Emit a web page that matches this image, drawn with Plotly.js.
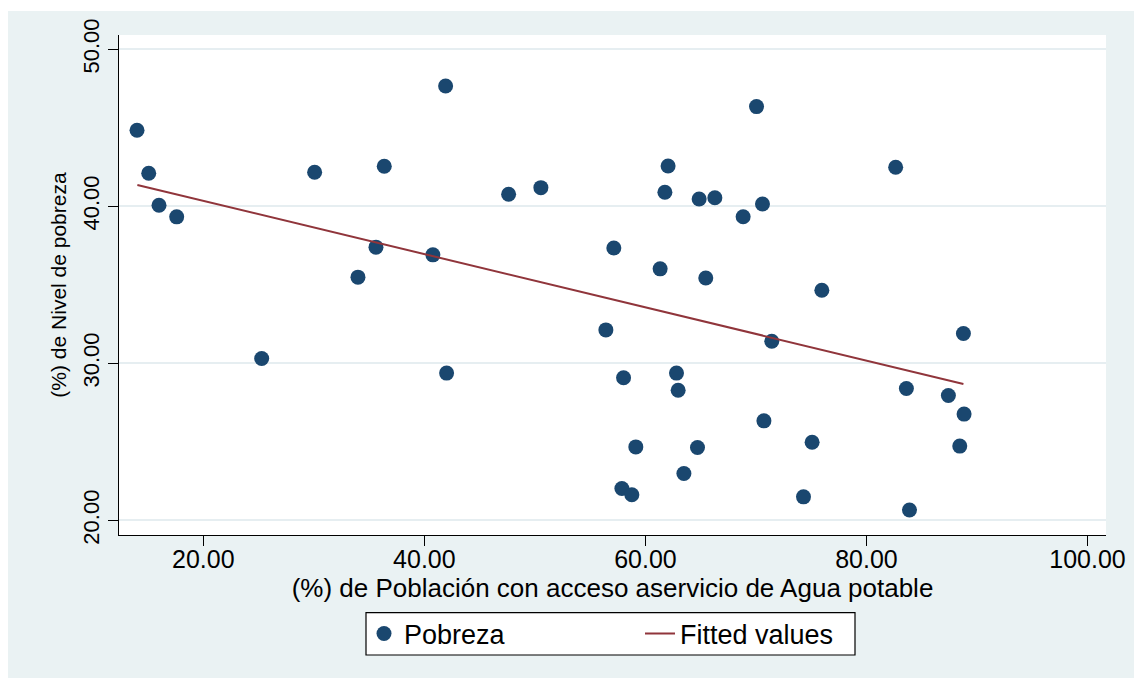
<!DOCTYPE html>
<html>
<head>
<meta charset="utf-8">
<script src="https://cdn.plot.ly/plotly-3.0.1.min.js"></script>
<style>
  html, body { margin: 0; padding: 0; background: #ffffff; width: 1134px; height: 678px; overflow: hidden; }
  #chart { position: absolute; left: 8px; top: 11px; width: 1126px; height: 667px; }
</style>
</head>
<body>
<div id="chart"></div>
<script>
// ---- data ----
const pobrezaX = [14.00, 15.06, 15.99, 17.59, 25.28, 30.07, 33.99, 35.62, 36.37, 40.77,
                  41.92, 42.01, 47.62, 50.54, 56.42, 57.14, 57.87, 58.02, 58.77, 59.13,
                  61.33, 61.76, 62.05, 62.81, 62.96, 63.48, 64.71, 64.86, 65.46, 66.28,
                  68.84, 70.05, 70.59, 70.72, 71.43, 74.30, 75.08, 75.96, 82.64, 83.61,
                  83.89, 87.41, 88.44, 88.77, 88.83];
const pobrezaY = [44.84, 42.11, 40.07, 39.33, 30.31, 42.17, 35.49, 37.40, 42.55, 36.91,
                  47.66, 29.38, 40.77, 41.19, 32.13, 37.35, 22.03, 29.08, 21.63, 24.68,
                  36.02, 40.90, 42.57, 29.38, 28.29, 22.99, 24.64, 40.47, 35.44, 40.55,
                  39.34, 46.35, 40.15, 26.34, 31.41, 21.50, 24.98, 34.66, 42.49, 28.40,
                  20.66, 27.95, 24.73, 31.90, 26.77];
const fittedX = [14.03, 88.77];
const fittedY = [41.36, 28.69];

const xTickVals = [20, 40, 60, 80, 100];
const yTickVals = [20, 30, 40, 50];
const xTitle = "(%) de Población con acceso aservicio de Agua potable";
const yTitle = "(%) de Nivel de pobreza";
const seriesNames = ["Pobreza", "Fitted values"];

// ---- styles ----
const FONT = "Liberation Sans, Arial, Helvetica, sans-serif";
const navy = "#1a476f";
const maroon = "#90353b";
const bg = "#eaf2f3";

const traces = [
  {
    type: "scatter", mode: "markers", name: seriesNames[0],
    x: pobrezaX, y: pobrezaY,
    marker: { color: navy, size: 15, line: { width: 0 } },
    legend: "legend", cliponaxis: false
  },
  {
    type: "scatter", mode: "lines", name: seriesNames[1],
    x: fittedX, y: fittedY,
    line: { color: maroon, width: 2 },
    legend: "legend2"
  }
];

const layout = {
  width: 1126, height: 667,
  paper_bgcolor: bg, plot_bgcolor: "#ffffff",
  margin: { l: 111, r: 28, t: 24, b: 143 },
  font: { family: FONT, color: "#000000" },
  showlegend: true,
  xaxis: {
    range: [12.37, 101.67],
    tickvals: xTickVals, tickformat: ".2f",
    showgrid: false, zeroline: false,
    showline: true, linecolor: "#000000", linewidth: 1.3,
    ticks: "outside", ticklen: 10, tickwidth: 1.3, tickcolor: "#000000",
    tickfont: { family: FONT, size: 25, color: "#000000" },
    ticklabelstandoff: -8,
    automargin: false,
    title: { text: xTitle, font: { family: FONT, size: 26, color: "#000000" }, standoff: 0 }
  },
  yaxis: {
    range: [19.07, 50.91],
    tickvals: yTickVals, tickformat: ".2f", tickangle: -90,
    showgrid: true, gridcolor: "#e6eef1", gridwidth: 1.8,
    zeroline: false,
    showline: true, linecolor: "#000000", linewidth: 1.3,
    ticks: "outside", ticklen: 10, tickwidth: 1.3, tickcolor: "#000000",
    tickfont: { family: FONT, size: 22, color: "#000000" },
    automargin: false,
    title: { text: yTitle, font: { family: FONT, size: 21, color: "#000000" }, standoff: 6 }
  },
  legend: {
    orientation: "h", xref: "container", yref: "container",
    x: 356 / 1126, xanchor: "left", y: 44 / 667, yanchor: "middle",
    bgcolor: "rgba(0,0,0,0)", borderwidth: 0,
    font: { family: FONT, size: 27, color: "#000000" }
  },
  legend2: {
    orientation: "h", xref: "container", yref: "container",
    x: 632 / 1126, xanchor: "left", y: 44 / 667, yanchor: "middle",
    bgcolor: "rgba(0,0,0,0)", borderwidth: 0,
    font: { family: FONT, size: 27, color: "#000000" }
  },
  shapes: [
    {
      type: "rect", xref: "paper", yref: "paper", layer: "below",
      x0: (366 - 119) / 987, x1: (855 - 119) / 987,
      y0: (535 - 612.7) / 500, y1: (535 - 655) / 500,
      fillcolor: "#ffffff", line: { color: "#000000", width: 1.2 }
    }
  ]
};

Plotly.newPlot("chart", traces, layout, { displayModeBar: false, responsive: false });
</script>
</body>
</html>
